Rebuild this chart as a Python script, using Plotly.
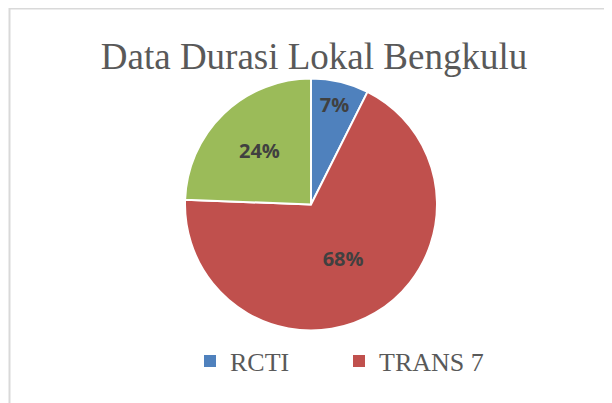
import plotly.graph_objects as go

title_text = "Data Durasi Lokal Bengkulu"
categories = ["RCTI", "TRANS 7", "Lainnya"]
values = [7.4, 68.2, 24.4]
colors = ["#4F81BD", "#C0504D", "#9BBB59"]
legend_items = ["RCTI", "TRANS 7"]

# The page body has an 8px margin, so the figure is drawn 8px smaller
# and all layout fractions are measured from that offset.
OFF = 8
W, H = 612 - OFF, 403 - OFF


def fx(px):
    return (px - OFF) / W


def fy(py):
    return 1 - (py - OFF) / H


fig = go.Figure()
fig.add_trace(go.Pie(
    labels=categories,
    values=values,
    sort=False,
    direction="clockwise",
    rotation=0,
    marker=dict(colors=colors, line=dict(color="white", width=2)),
    texttemplate="%{percent:.0%}",
    textposition="inside",
    insidetextorientation="horizontal",
    textfont=dict(family="Open Sans", size=20, color="#404040", weight="bold"),
    showlegend=False,
    hoverinfo="label+percent",
    domain=dict(x=[fx(185), fx(437)], y=[fy(331), fy(78)]),
))

for name in legend_items:
    c = colors[categories.index(name)]
    fig.add_trace(go.Scatter(
        x=[None], y=[None], mode="markers", name=name,
        marker=dict(symbol="square", size=10, color=c),
    ))

fig.update_layout(
    width=W, height=H,
    margin=dict(l=0, r=0, t=0, b=0),
    paper_bgcolor="white", plot_bgcolor="white",
    xaxis=dict(visible=False), yaxis=dict(visible=False),
    title=dict(
        text=title_text,
        font=dict(family="Liberation Serif", size=37, color="#595959"),
        x=fx(314), xanchor="center",
        y=fy(56), yanchor="middle",
        xref="paper", yref="paper",
    ),
    legend=dict(
        orientation="h",
        x=fx(190), xanchor="left",
        y=fy(361), yanchor="middle",
        font=dict(family="Liberation Serif", size=26, color="#595959"),
        entrywidth=104, entrywidthmode="pixels",
        itemsizing="constant",
        bgcolor="rgba(0,0,0,0)",
    ),
    shapes=[dict(
        type="rect", xref="paper", yref="paper",
        x0=fx(9.5), x1=1.05, y0=-0.05, y1=fy(8.5),
        line=dict(color="#D9D9D9", width=2),
        fillcolor="rgba(0,0,0,0)", layer="below",
    )],
)

fig.write_html("out.html")
